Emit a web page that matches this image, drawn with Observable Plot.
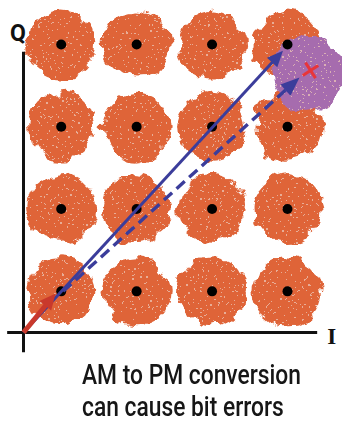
<!DOCTYPE html>
<html>
<head>
<meta charset="utf-8">
<script src="https://cdn.jsdelivr.net/npm/d3@7"></script>
<script src="https://cdn.jsdelivr.net/npm/@observablehq/plot@0.6"></script>
<style>
  html, body { margin: 0; padding: 0; background: #fff; overflow: hidden; }
  #chart svg { display: block; }
  .caption { font-family: Roboto, "Liberation Sans", Arial, sans-serif; font-weight: 500; font-size: 28px; line-height: 32px; color: #161616; padding-left: 82px; }
  .caption div { white-space: nowrap; transform-origin: 0 0; width: max-content; }
</style>
</head>
<body>
<div id="chart"></div>
<script>
// ---- data ----
const iLevels = [1, 3, 5, 7];
const qLevels = [1, 3, 5, 7];
const receivedCloud = [{ i: 7.52, q: 6.28 }];
const errorPoint = [{ i: 7.61, q: 6.37 }];
const vectors = [
  { name: "ideal", i1: 0, q1: 0, i2: 6.88, q2: 6.85 },
  { name: "distorted", i1: 1.05, q1: 1.0, i2: 7.32, q2: 6.2 },
  { name: "amplitude", i1: 0, q1: 0, i2: 0.85, q2: 0.95 }
];
const axisLabels = [
  { label: "Q", i: -0.15, q: 7.26 },
  { label: "I", i: 8.17, q: -0.1 }
];
const axisExtent = { iMin: -0.42, iMax: 7.8, qMin: -0.49, qMax: 6.81 };
const captionLines = ["AM to PM conversion", "can cause bit errors"];

// ---- styles ----
const W = 342, H = 359;
const xRange = [23, 287], yRange = [332, 44];
const ORANGE = "#df6438", PURPLE = "#a66cae", BLUE = "#3b3d9b", RED = "#c9392c", XRED = "#e8353a";
const vecStyle = {
  ideal: { stroke: BLUE, width: 3, dash: null, L: 16, Wd: 14 },
  distorted: { stroke: BLUE, width: 3.4, dash: "11,6", L: 19, Wd: 15 },
  amplitude: { stroke: RED, width: 5, dash: null, L: 16, Wd: 15 }
};

const symbols = d3.cross(iLevels, qLevels, (i, q) => ({ i, q }));

// same mapping as the Plot scales, for arrowhead geometry
const sx = d3.scaleLinear([0, 7], xRange);
const sy = d3.scaleLinear([0, 7], yRange);

const shafts = [], heads = [];
for (const v of vectors) {
  const st = vecStyle[v.name];
  const x1 = sx(v.i1), y1 = sy(v.q1), x2 = sx(v.i2), y2 = sy(v.q2);
  const len = Math.hypot(x2 - x1, y2 - y1);
  const dx = (x2 - x1) / len, dy = (y2 - y1) / len;
  const bx = x2 - st.L * dx, by = y2 - st.L * dy;
  const nx = -dy, ny = dx;
  shafts.push({ name: v.name, i1: v.i1, q1: v.q1, i2: sx.invert(bx + dx), q2: sy.invert(by + dy) });
  const pts = [[x2, y2], [bx + nx * st.Wd / 2, by + ny * st.Wd / 2], [bx - nx * st.Wd / 2, by - ny * st.Wd / 2], [x2, y2]];
  for (const [px, py] of pts) heads.push({ name: v.name, i: sx.invert(px), q: sy.invert(py) });
}

const marks = [
  Plot.dot(symbols, { x: "i", y: "q", r: 34, fill: ORANGE, stroke: "none" }),
  Plot.dot(receivedCloud, { x: "i", y: "q", r: 37, fill: PURPLE, stroke: "none" }),
  Plot.ruleX([0], { y1: axisExtent.qMin, y2: axisExtent.qMax, stroke: "#111", strokeWidth: 3 }),
  Plot.ruleY([0], { x1: axisExtent.iMin, x2: axisExtent.iMax, stroke: "#111", strokeWidth: 3 }),
  Plot.dot(symbols, { x: "i", y: "q", r: 5, fill: "#000", stroke: "none" }),
  ...vectors.map(v => {
    const st = vecStyle[v.name];
    return Plot.link(shafts.filter(s => s.name === v.name), {
      x1: "i1", y1: "q1", x2: "i2", y2: "q2",
      stroke: st.stroke, strokeWidth: st.width, strokeDasharray: st.dash, strokeLinecap: "butt"
    });
  }),
  ...vectors.map(v => Plot.line(heads.filter(h => h.name === v.name), {
    x: "i", y: "q", fill: vecStyle[v.name].stroke, stroke: "none", curve: "linear"
  })),
  Plot.dot(errorPoint, { x: "i", y: "q", symbol: "times", r: 6, stroke: XRED, strokeWidth: 3, rotate: 12 }),
  Plot.text(axisLabels.slice(0, 1), { x: "i", y: "q", text: "label", fontSize: 23, fontWeight: "bold", fontFamily: "Roboto, Liberation Sans, sans-serif", fill: "#111" }),
  Plot.text(axisLabels.slice(1), { x: "i", y: "q", text: "label", fontSize: 23, fontWeight: "bold", fontFamily: "Liberation Serif, serif", fill: "#111" })
];

const svg = Plot.plot({
  width: W, height: H, margin: 0,
  x: { domain: [0, 7], range: xRange, axis: null },
  y: { domain: [0, 7], range: yRange, axis: null },
  style: { overflow: "visible", background: "#fff" },
  marks
});

// rough, speckled texture for the noise clouds
const ns = "http://www.w3.org/2000/svg";
const defs = document.createElementNS(ns, "defs");
defs.innerHTML = `
<filter id="rough" x="-30%" y="-30%" width="160%" height="160%" color-interpolation-filters="sRGB">
  <feTurbulence type="fractalNoise" baseFrequency="0.06" numOctaves="3" seed="3" result="noise"/>
  <feDisplacementMap in="SourceGraphic" in2="noise" scale="16" xChannelSelector="R" yChannelSelector="G" result="d"/>
  <feTurbulence type="fractalNoise" baseFrequency="0.5" numOctaves="1" seed="9" result="fine"/>
  <feColorMatrix in="fine" type="matrix" values="0 0 0 0 0  0 0 0 0 0  0 0 0 0 0  1.8 0 0 0 -0.4" result="fa"/>
  <feComponentTransfer in="fa" result="spots"><feFuncA type="discrete" tableValues="0 0 0 0 0.75"/></feComponentTransfer>
  <feFlood flood-color="#ebc6b6" result="fl"/>
  <feComposite in="fl" in2="spots" operator="in" result="sp"/>
  <feComposite in="sp" in2="d" operator="in" result="sp2"/>
  <feMerge><feMergeNode in="d"/><feMergeNode in="sp2"/></feMerge>
</filter>`;
svg.insertBefore(defs, svg.firstChild);
svg.querySelectorAll("g").forEach(g => {
  const f = (g.getAttribute("fill") || "").toLowerCase();
  if (f === ORANGE || f === PURPLE) g.setAttribute("filter", "url(#rough)");
});

document.getElementById("chart").appendChild(svg);
const cap = document.createElement("div");
cap.className = "caption";
cap.innerHTML = captionLines.map(t => `<div>${t}</div>`).join("");
document.getElementById("chart").appendChild(cap);
// condense caption so the first line spans the same width as the reference
const lines = cap.querySelectorAll("div");
const k = 219 / lines[0].getBoundingClientRect().width;
lines.forEach(d => d.style.transform = `scaleX(${k})`);
</script>
</body>
</html>
